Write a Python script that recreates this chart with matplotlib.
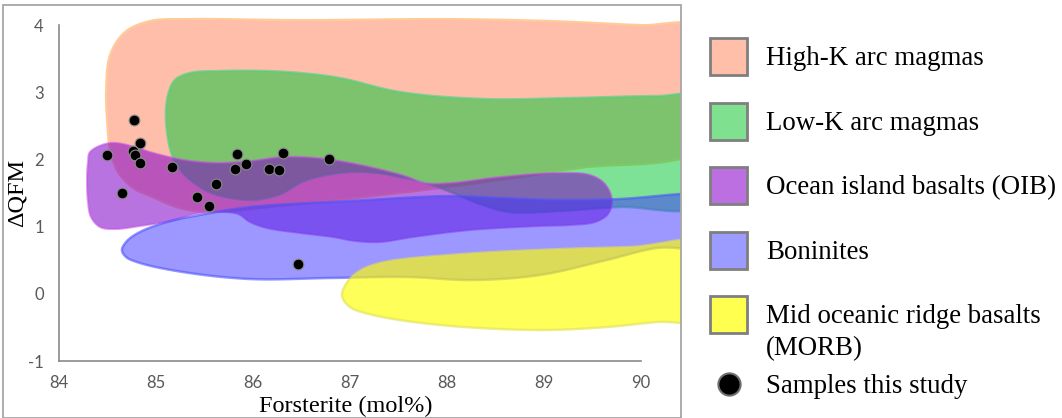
import numpy as np
import matplotlib
matplotlib.use("Agg")
import matplotlib.pyplot as plt
from matplotlib.patches import Polygon, Rectangle
from matplotlib.lines import Line2D

# Olivine-hosted melt samples: forsterite content (mol%) and oxygen fugacity (ΔQFM)
fo_samples = [84.77, 84.84, 84.76, 84.78, 84.84, 84.49, 84.65, 85.16, 85.83, 85.93,
              85.81, 86.17, 86.27, 86.31, 86.78, 85.62, 85.42, 85.55, 86.46]
dqfm_samples = [2.59, 2.25, 2.12, 2.06, 1.94, 2.06, 1.50, 1.89, 2.08, 1.93,
                1.86, 1.86, 1.84, 2.09, 2.01, 1.63, 1.44, 1.30, 0.44]

# Literature fields, outlined as (forsterite, ΔQFM) control points
high_k_fo = [84.495, 84.485, 84.526, 84.680, 84.938, 85.351, 86.485, 88.031, 89.062, 89.990,
             90.608, 90.814, 90.608, 89.371, 88.546, 87.515, 86.485, 86.072, 85.660, 85.278,
             84.938, 84.763, 84.608, 84.526]
high_k_dqfm = [2.586, 3.033, 3.554, 3.896, 4.060, 4.089, 4.074, 4.089, 4.060, 4.000,
               3.970, 3.033, 2.140, 1.872, 1.693, 1.500, 1.336, 1.277, 1.217, 1.262,
               1.455, 1.574, 1.812, 2.140]

low_k_fo = [85.103, 85.124, 85.196, 85.351, 85.660, 86.144, 86.485, 86.897, 87.515, 88.371,
            89.299, 90.165, 90.608, 90.814, 90.608, 89.784, 89.165, 88.649, 88.340, 88.031,
            87.753, 87.515, 87.278, 87.000, 86.660, 86.485, 86.309, 86.144, 85.969, 85.629,
            85.454, 85.278, 85.165]
low_k_dqfm = [2.586, 2.958, 3.182, 3.286, 3.315, 3.315, 3.286, 3.211, 3.003, 2.899,
              2.914, 2.943, 2.929, 2.140, 1.307, 1.292, 1.232, 1.217, 1.336, 1.520,
              1.664, 1.738, 1.798, 1.812, 1.738, 1.649, 1.500, 1.426, 1.396, 1.470,
              1.589, 1.798, 2.065]

oib_fo = [84.320, 84.526, 84.784, 84.938, 85.278, 85.629, 85.969, 86.309, 86.660, 87.000,
          87.340, 87.567, 87.773, 88.031, 88.546, 89.134, 89.474, 89.629, 89.701, 89.660,
          89.526, 89.268, 88.959, 88.237, 87.649, 87.309, 87.052, 86.825, 86.485, 86.144,
          85.969, 85.845, 85.608, 85.402, 85.144, 84.835, 84.577, 84.423, 84.330, 84.299,
          84.289, 84.299]
oib_dqfm = [2.110, 2.244, 2.185, 2.110, 1.994, 1.949, 1.976, 2.036, 2.021, 1.949,
            1.842, 1.753, 1.649, 1.649, 1.738, 1.798, 1.768, 1.634, 1.396, 1.188,
            1.068, 1.024, 1.009, 0.949, 0.845, 0.771, 0.786, 0.845, 0.905, 0.979,
            1.068, 1.188, 1.217, 1.188, 1.083, 1.009, 0.964, 0.994, 1.143, 1.366,
            1.693, 1.961]

boninite_fo = [84.649, 84.701, 84.835, 85.113, 85.454, 85.969, 87.000, 88.031, 88.546, 89.165,
               89.784, 90.402, 90.814, 90.814, 90.165, 89.649, 88.959, 88.268, 87.588, 86.794,
               85.969, 85.278, 84.835, 84.691]
boninite_dqfm = [0.652, 0.786, 0.920, 1.068, 1.173, 1.292, 1.381, 1.455, 1.426, 1.396,
                 1.411, 1.485, 1.515, 0.726, 0.682, 0.503, 0.280, 0.205, 0.250, 0.235,
                 0.220, 0.324, 0.458, 0.548]

morb_fo = [86.918, 86.959, 87.082, 87.309, 88.165, 89.196, 89.887, 90.814, 90.814, 90.165,
           89.649, 88.959, 87.928, 87.237, 87.000]
morb_dqfm = [-0.033, 0.146, 0.324, 0.458, 0.592, 0.667, 0.696, 0.741, -0.360, -0.420,
             -0.494, -0.539, -0.464, -0.315, -0.196]

field_labels = ["High-K arc magmas", "Low-K arc magmas", "Ocean island basalts (OIB)",
                "Boninites", "Mid oceanic ridge basalts\n(MORB)"]
sample_label = "Samples this study"
x_ticks = [84, 85, 86, 87, 88, 89, 90]
y_ticks = [-1, 0, 1, 2, 3, 4]

W, H = 1062, 418
fig = plt.figure(figsize=(W / 100, H / 100), dpi=100)
fig.patch.set_facecolor("white")


def fx(px):
    return px / W


def fy(py):
    return 1 - py / H


ax = fig.add_axes([fx(59), fy(361), fx(641) - fx(59), fy(25) - fy(361)])
ax.set_xlim(84, 90)
ax.set_ylim(-1, 4)
ax.set_facecolor("none")

for side in ("top", "right"):
    ax.spines[side].set_visible(False)
for side in ("left", "bottom"):
    ax.spines[side].set_color("#8a8a8a")
    ax.spines[side].set_linewidth(1.2)

ax.set_xticks(x_ticks)
ax.set_yticks(y_ticks)
ax.set_xticklabels([str(v) for v in x_ticks])
ax.set_yticklabels([str(v) for v in y_ticks])
ax.tick_params(axis="both", length=0, labelsize=12, labelcolor="#595959")
ax.tick_params(axis="x", pad=10)
ax.tick_params(axis="y", pad=11)
for lab in ax.get_xticklabels() + ax.get_yticklabels():
    lab.set_family(["Lato", "DejaVu Sans"])

serif = ["Liberation Serif", "DejaVu Serif"]
ax.set_xlabel("Forsterite (mol%)", family=serif, fontsize=17.5, color="black")
ax.xaxis.label.set_va("baseline")
ax.xaxis.set_label_coords((346 - 59) / 582, -(412 - 361) / 336)
ax.set_ylabel("ΔQFM", family=serif, fontsize=17.5, color="black")
ax.yaxis.set_label_coords((28 - 59) / 582, 0.5)

# outer frame of the panel; fields are clipped to it
frame = Rectangle((fx(3), 0), fx(681) - fx(3), fy(5), transform=fig.transFigure,
                  fill=False, edgecolor="#a6a6a6", linewidth=1.3)
fig.add_artist(frame)
clip_box = Rectangle((fx(3), 0), fx(681) - fx(3), fy(5), transform=fig.transFigure)


def smooth_closed(pts, n=30, alpha=0.5):
    """Centripetal Catmull-Rom spline through a closed ring of points."""
    P = np.asarray(pts, float)
    m = len(P)
    out = []
    for i in range(m):
        p0, p1, p2, p3 = P[(i - 1) % m], P[i], P[(i + 1) % m], P[(i + 2) % m]
        t0 = 0.0
        t1 = t0 + np.linalg.norm(p1 - p0) ** alpha
        t2 = t1 + np.linalg.norm(p2 - p1) ** alpha
        t3 = t2 + np.linalg.norm(p3 - p2) ** alpha
        t = np.linspace(t1, t2, n, endpoint=False)[:, None]
        A1 = (t1 - t) / (t1 - t0) * p0 + (t - t0) / (t1 - t0) * p1
        A2 = (t2 - t) / (t2 - t1) * p1 + (t - t1) / (t2 - t1) * p2
        A3 = (t3 - t) / (t3 - t2) * p2 + (t - t2) / (t3 - t2) * p3
        B1 = (t2 - t) / (t2 - t0) * A1 + (t - t0) / (t2 - t0) * A2
        B2 = (t3 - t) / (t3 - t1) * A2 + (t - t1) / (t3 - t1) * A3
        out.append((t2 - t) / (t2 - t1) * B1 + (t - t1) / (t2 - t1) * B2)
    return np.vstack(out)


def draw_field(fo, dq, face, edge, lw, z):
    disp = ax.transData.transform(np.column_stack([fo, dq]))
    ring = ax.transData.inverted().transform(smooth_closed(disp))
    poly = Polygon(ring, closed=True, facecolor=face, edgecolor=edge,
                   linewidth=lw, zorder=z, joinstyle="round")
    ax.add_patch(poly)
    poly.set_clip_path(clip_box)


draw_field(high_k_fo, high_k_dqfm, (1.0, 0.745, 0.667, 1.0), (1.0, 0.80, 0.60, 1.0), 1.5, 1)
draw_field(low_k_fo, low_k_dqfm, (0.027, 0.788, 0.208, 0.52), (0.30, 0.82, 0.50, 0.6), 1.8, 2)
draw_field(oib_fo, oib_dqfm, (0.50, 0.0, 0.785, 0.55), (0.78, 0.30, 0.90, 0.55), 1.5, 3)
draw_field(boninite_fo, boninite_dqfm, (0.235, 0.196, 1.0, 0.5), (0.30, 0.33, 0.98, 0.6), 1.8, 4)
draw_field(morb_fo, morb_dqfm, (1.0, 1.0, 0.0, 0.65), (0.88, 0.88, 0.33, 0.6), 1.8, 5)

ax.scatter(fo_samples, dqfm_samples, s=60, color="black", edgecolors="#8c8c8c",
           linewidths=0.8, zorder=10, clip_on=False)

# legend column: swatch beside the first line of each label
legend_colors = ["#ffbfa8", "#7fe190", "#bb6fe0", "#9c9bff", "#ffff50"]
baselines = [65, 130, 194, 259, 323]
line_step = 32
for color, label, base in zip(legend_colors, field_labels, baselines):
    c = base - 8.5
    fig.add_artist(Rectangle((fx(710), fy(c + 18.5)), fx(37), 37 / H,
                             transform=fig.transFigure, facecolor=color,
                             edgecolor="#7f7f7f", linewidth=2.0))
    for k, line in enumerate(label.split("\n")):
        fig.text(fx(766), fy(base + k * line_step), line, family=serif, fontsize=19.4,
                 color="black", va="baseline", ha="left")
fig.add_artist(Line2D([fx(729)], [fy(384)], marker="o", markersize=16, color="black",
                      markeredgecolor="#6e6e6e", markeredgewidth=1.5,
                      transform=fig.transFigure))
fig.text(fx(766), fy(393), sample_label, family=serif, fontsize=19.4, color="black",
         va="baseline", ha="left")

fig.savefig("out.png", dpi=100)
